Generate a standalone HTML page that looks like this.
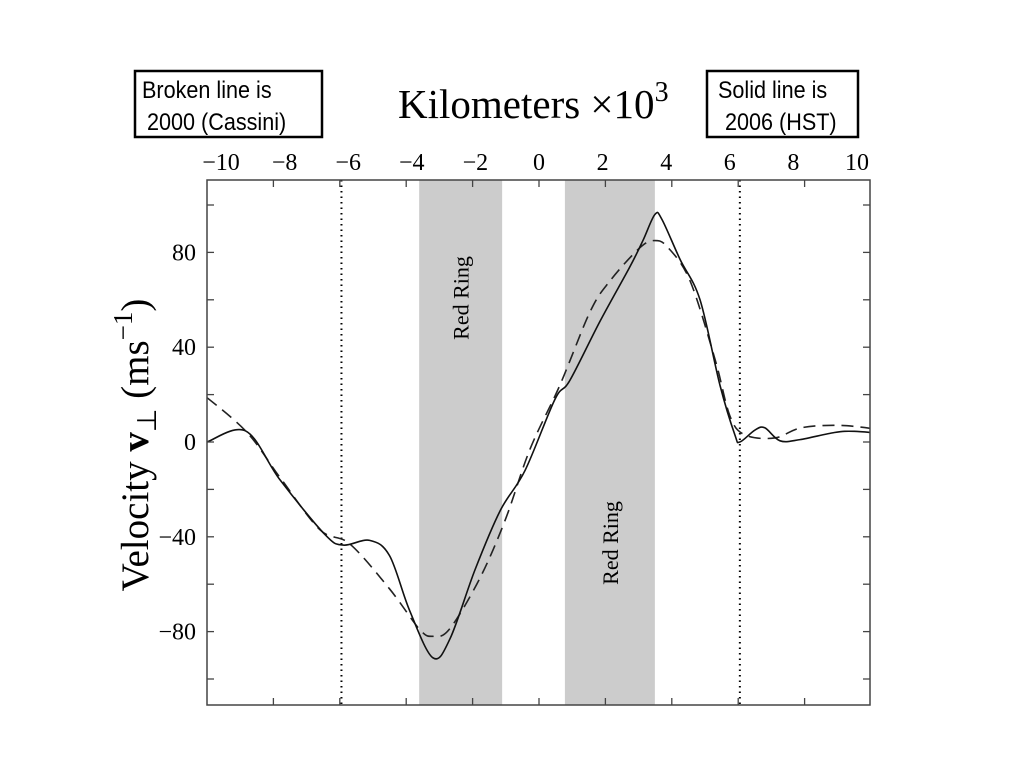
<!DOCTYPE html>
<html><head><meta charset="utf-8"><style>
body{margin:0;background:#fff;width:1024px;height:768px;overflow:hidden}
svg text{font-family:"Liberation Serif",serif}
.box text{font-family:"Liberation Sans",sans-serif}
</style></head><body>
<svg id="chart" width="1024" height="768" viewBox="0 0 1024 768" xmlns="http://www.w3.org/2000/svg">
<g class="box">
<rect x="135" y="71" width="187" height="66" fill="#fff" stroke="#000" stroke-width="2.5"/>
<text x="142" y="98" font-size="24" transform="translate(142,0) scale(0.9,1) translate(-142,0)">Broken line is</text>
<text x="147" y="130" font-size="24" transform="translate(147,0) scale(0.9,1) translate(-147,0)">2000 (Cassini)</text>
</g>
<g class="box">
<rect x="707" y="71" width="151" height="66" fill="#fff" stroke="#000" stroke-width="2.5"/>
<text x="718" y="98" font-size="24" transform="translate(718,0) scale(0.9,1) translate(-718,0)">Solid line is</text>
<text x="725" y="130" font-size="24" transform="translate(725,0) scale(0.9,1) translate(-725,0)">2006 (HST)</text>
</g>
<text x="398" y="118" font-size="41">Kilometers ×10<tspan font-size="28" dy="-17">3</tspan></text>
<text transform="translate(148,445) rotate(-90)" text-anchor="middle" font-size="39">Velocity <tspan font-weight="bold">v</tspan><tspan font-size="27" dy="8">⊥</tspan><tspan dy="-8"> (ms</tspan><tspan font-size="27" dy="-16">−1</tspan><tspan dy="16">)</tspan></text>
<g id="plot"></g>
</svg>
<script>
const xTicks=[-10,-8,-6,-4,-2,0,2,4,6,8,10];
const yTicks=[-80,-40,0,40,80];
const yMinorTicks=[-100,-80,-60,-40,-20,0,20,40,60,80,100];
const bands=[[-3.61,-1.11],[0.78,3.49]];
const bandLabels=["Red Ring","Red Ring"];
const dottedX=[-5.95,6.05];
const solidX=[-10,-8.83,-7.8,-6.45,-5.9,-5.1,-4.5,-3.9,-3.2,-2.68,-1.93,-1.17,-0.42,0.48,0.93,1.84,2.74,3.13,3.49,3.7,4.25,4.85,5.45,5.9,6.05,6.5,6.8,7.26,7.86,8.9,9.5,10.4];
const solidV=[0,4.6,-16,-39,-43.5,-41.5,-48,-71,-91,-83,-54,-29,-12,18,26,51,74,85,96,94,77,60,24,3,0,5,6,0.5,1,4,4.5,3.5];
const dashX=[-10.44,-8.86,-7.8,-6.6,-5.7,-4.5,-3.6,-3.2,-2.7,-1.8,-1.02,-0.27,0.63,1.54,2.14,3.04,3.5,3.89,4.55,5.3,5.75,6.2,7.1,7.9,9.1,10.4];
const dashV=[23.6,5,-15,-37,-43,-62,-79,-82,-79,-58,-33,-3,24,55,68,82,85,82,68,35,11,3,1.7,6,7,5];
const L=207,R=870,T=180,B=705;
const sx=v=>539+v*33.2;
const sy=v=>442-v*2.37;
const lx=v=>539+v*31.8;
const NS="http://www.w3.org/2000/svg";
const g=document.getElementById('plot');
function mk(tag,attrs){const e=document.createElementNS(NS,tag);for(const k in attrs)e.setAttribute(k,attrs[k]);g.appendChild(e);return e;}
bands.forEach((b,i)=>{
 const r=mk('rect',{x:sx(b[0]),y:T,width:sx(b[1])-sx(b[0]),height:B-T,fill:'#cccccc'});
 
 
 const cx=(sx(b[0])+sx(b[1]))/2+8, cy=i==0?298:543;
 const t=mk('text',{transform:`translate(${cx},${cy}) rotate(-90)`,'text-anchor':'middle','font-size':22});
 t.textContent=bandLabels[i];
 
 
});
dottedX.forEach(d=>{
 const l=mk('line',{x1:sx(d),x2:sx(d),y1:T,y2:B,stroke:'#000','stroke-width':2,'stroke-dasharray':'1.5 4'});
 
 
});
function path(xs,vs){
 const p=xs.map((x,i)=>[sx(x),sy(vs[i])]);
 let d=`M${p[0][0]},${p[0][1]}`;
 for(let i=0;i<p.length-1;i++){
  const p0=p[Math.max(i-1,0)],p1=p[i],p2=p[i+1],p3=p[Math.min(i+2,p.length-1)];
  d+=` C${p1[0]+(p2[0]-p0[0])/6},${p1[1]+(p2[1]-p0[1])/6} ${p2[0]-(p3[0]-p1[0])/6},${p2[1]-(p3[1]-p1[1])/6} ${p2[0]},${p2[1]}`;
 }
 return d;
}
const clip=mk('clipPath',{id:'cp'});
const cr=document.createElementNS(NS,'rect');cr.setAttribute('x',L);cr.setAttribute('y',T);cr.setAttribute('width',R-L);cr.setAttribute('height',B-T);clip.appendChild(cr);
const ds=mk('path',{d:path(dashX,dashV),fill:'none',stroke:'#222','stroke-width':1.6,'stroke-dasharray':'12 7','clip-path':'url(#cp)'});


const ss=mk('path',{d:path(solidX,solidV),fill:'none',stroke:'#111','stroke-width':1.6,'clip-path':'url(#cp)'});


const frame=mk('rect',{x:L,y:T,width:R-L,height:B-T,fill:'none',stroke:'#444','stroke-width':1.5});


xTicks.forEach(v=>{
 const x=sx(v);
 if(x>L+2&&x<R-2){mk('line',{x1:x,x2:x,y1:T,y2:T+7,stroke:'#444','stroke-width':1.3});mk('line',{x1:x,x2:x,y1:B,y2:B-7,stroke:'#444','stroke-width':1.3});}
 const t=mk('text',{x:lx(v),y:170,'text-anchor':'middle','font-size':24});
 t.textContent=v<0?'−'+Math.abs(v):String(v);
 
 
});
yMinorTicks.forEach(v=>{
 const y=sy(v);
 mk('line',{x1:L,x2:L+7,y1:y,y2:y,stroke:'#444','stroke-width':1.3});
 mk('line',{x1:R,x2:R-7,y1:y,y2:y,stroke:'#444','stroke-width':1.3});
});
yTicks.forEach(v=>{
 const t=mk('text',{x:196,y:sy(v)+8,'text-anchor':'end','font-size':24});
 t.textContent=v<0?'−'+Math.abs(v):String(v);
 
 
});
</script>
</body></html>
